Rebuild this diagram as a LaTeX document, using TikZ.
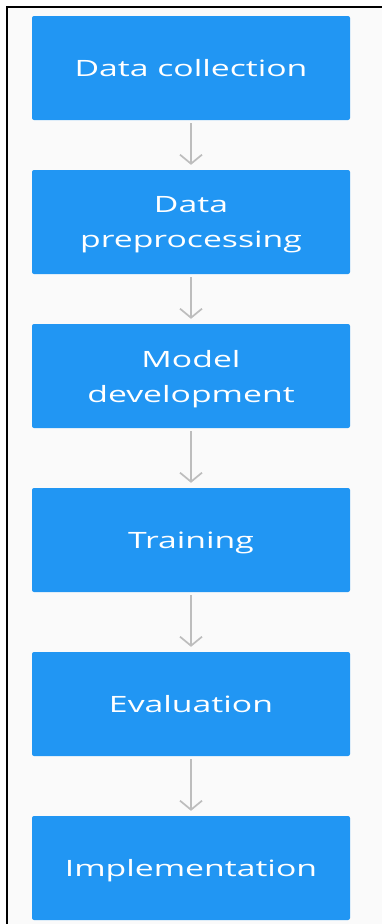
\documentclass[tikz,border=0pt]{standalone}
\usepackage{fontspec}
\setmainfont{Open Sans}[FakeStretch=1.5]
\usetikzlibrary{arrows.meta}
\definecolor{stepblue}{HTML}{2196F3}
\definecolor{arrowgrey}{HTML}{BDBDBD}
\definecolor{paper}{HTML}{FAFAFA}

\begin{document}
\begin{tikzpicture}[x=1pt,y=-1pt]

        \useasboundingbox (0,0) rectangle (382,924);
        \fill[paper] (7,7) rectangle (382,924);
        \draw[line width=1.5pt] (7,924) -- (7,7) -- (382,7);

        \tikzstyle{every node}=[rectangle, rounded corners=2pt, fill=stepblue, text=white, minimum width=318pt, minimum height=104pt, align=center, text depth=0pt, font=\fontsize{22.5}{35}\selectfont]

        \foreach \i / \y / \txt in {1/68/{Data collection},2/222/{Data\\preprocessing},3/376/{Model\\development},4/540/{Training},5/704/{Evaluation},6/868/{Implementation}} {
            \node (s_\i) at (191,\y) {\txt};
        }

        \foreach \a / \b in {1/2,2/3,3/4,4/5,5/6} {
            \draw[arrowgrey, line width=1.7pt, -{Straight Barb[length=9pt,width=22pt]}, shorten <=3pt, shorten >=5pt] (s_\a) -- (s_\b);
        }

    \end{tikzpicture}
\end{document}
